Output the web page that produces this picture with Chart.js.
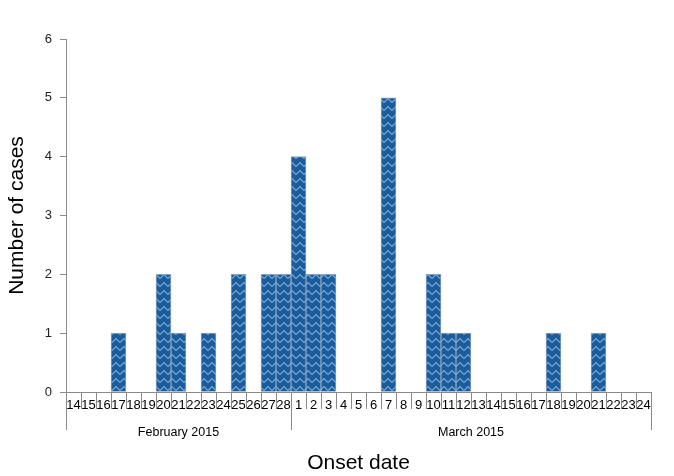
<!DOCTYPE html>
<html>
<head>
<meta charset="utf-8">
<script src="https://cdn.jsdelivr.net/npm/chart.js@4/dist/chart.umd.min.js"></script>
<style>
html,body{margin:0;padding:0;background:#fff;}
canvas{display:block;}
</style>
</head>
<body>
<canvas id="c" width="674" height="476"></canvas>
<script>
// Data
const categories = ['14','15','16','17','18','19','20','21','22','23','24','25','26','27','28',
  '1','2','3','4','5','6','7','8','9','10','11','12','13','14','15','16','17','18','19','20','21','22','23','24'];
const cases = [0,0,0,1,0,0,2,1,0,1,0,2,0,2,2,
  4,2,2,0,0,0,5,0,0,2,1,1,0,0,0,0,0,1,0,0,1,0,0,0];
const months = ['February 2015','March 2015'];
const monthDayCounts = [15, 24];
const yTicks = [0,1,2,3,4,5,6];

const FONT = '"Liberation Sans", Arial, sans-serif';

// chevron pattern
function makePattern(){
  const p = document.createElement('canvas');
  p.width = 8; p.height = 8;
  const g = p.getContext('2d');
  g.fillStyle = '#1d5c9b';
  g.fillRect(0,0,8,8);
  g.strokeStyle = '#78addf';
  g.lineWidth = 1.1;
  g.beginPath();
  g.moveTo(0,6.5); g.lineTo(4,2.5); g.lineTo(8,6.5);
  g.stroke();
  return document.getElementById('c').getContext('2d').createPattern(p,'repeat');
}

const groupPlugin = {
  id: 'groups',
  afterDraw(chart){
    const ctx = chart.ctx;
    const x = chart.scales.x;
    const bottom = chart.chartArea.bottom;
    const n = categories.length;
    const half = (x.getPixelForValue(1) - x.getPixelForValue(0)) / 2;
    const boundary = i => (i < n ? x.getPixelForValue(i) - half : x.getPixelForValue(n-1) + half);
    const monthEdges = [0];
    monthDayCounts.forEach(c => monthEdges.push(monthEdges[monthEdges.length-1] + c));
    ctx.save();
    ctx.strokeStyle = '#8a8a8a';
    ctx.lineWidth = 1;
    for (let i = 0; i <= n; i++) {
      const bx = Math.round(boundary(i)) + 0.5;
      const long = monthEdges.includes(i);
      ctx.beginPath();
      ctx.moveTo(bx, bottom);
      ctx.lineTo(bx, bottom + (long ? 38 : 17));
      ctx.stroke();
    }
    ctx.fillStyle = '#000';
    ctx.font = '12.5px ' + FONT;
    ctx.textAlign = 'center';
    ctx.textBaseline = 'middle';
    months.forEach((m, k) => {
      const cx = (boundary(monthEdges[k]) + boundary(monthEdges[k+1])) / 2;
      ctx.fillText(m, cx, bottom + 41);
    });
    ctx.restore();
  }
};

new Chart(document.getElementById('c'), {
  type: 'bar',
  data: {
    labels: categories,
    datasets: [{
      data: cases,
      backgroundColor: makePattern(),
      borderColor: '#8da3bd',
      borderWidth: 1,
      categoryPercentage: 1,
      barPercentage: 1
    }]
  },
  options: {
    responsive: false,
    devicePixelRatio: 1,
    animation: false,
    layout: { padding: { top: 39, right: 23, left: 0, bottom: 0 } },
    plugins: { legend: { display: false }, tooltip: { enabled: false } },
    scales: {
      x: {
        grid: { display: false },
        border: { display: true, color: '#8a8a8a', width: 1 },
        ticks: {
          autoSkip: false, maxRotation: 0, minRotation: 0,
          color: '#000', padding: -2,
          font: { family: FONT, size: 13 }
        },
        title: {
          display: true, text: 'Onset date', color: '#000',
          font: { family: FONT, size: 21 }, padding: { top: 0, bottom: 0 }
        },
        afterFit(s){ s.height = 84; }
      },
      y: {
        min: 0, max: 6,
        afterBuildTicks(s){ s.ticks = yTicks.map(v => ({ value: v })); },
        grid: { drawOnChartArea: false, drawTicks: true, tickLength: 6, color: '#8a8a8a' },
        border: { display: true, color: '#8a8a8a', width: 1 },
        ticks: { color: '#222', padding: 8, font: { family: FONT, size: 13 } },
        title: {
          display: true, text: 'Number of cases', color: '#000',
          font: { family: FONT, size: 21 }, padding: { top: 5, bottom: 0 }
        },
        afterFit(s){ s.width = 66; }
      }
    }
  },
  plugins: [groupPlugin]
});
</script>
</body>
</html>
